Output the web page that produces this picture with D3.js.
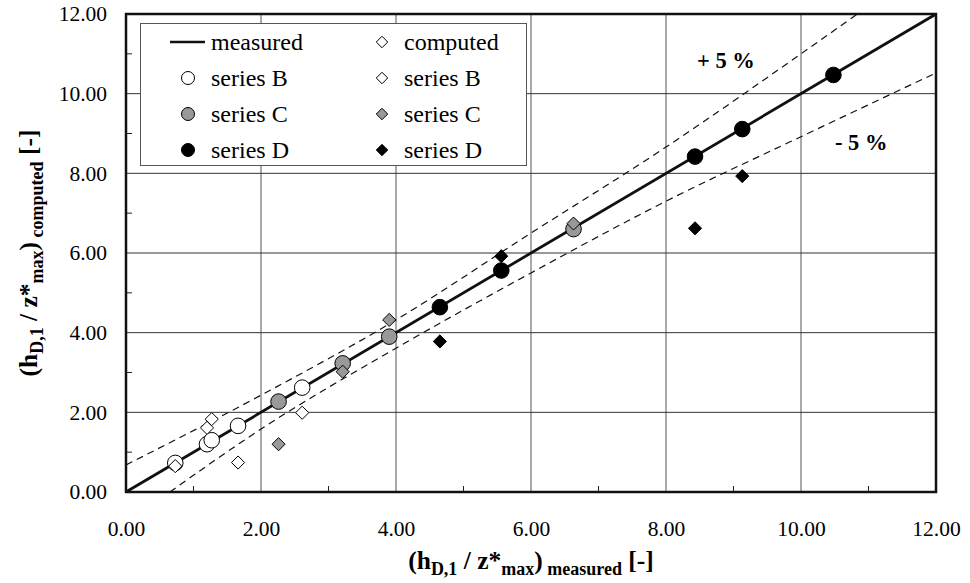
<!DOCTYPE html>
<html><head><meta charset="utf-8">
<script src="https://cdn.jsdelivr.net/npm/d3@7"></script>
<style>html,body{margin:0;padding:0;background:#fff;}svg{display:block;font-family:"Liberation Serif","Times New Roman",serif;}</style>
</head><body><svg id="c" width="970" height="583"></svg>
<script>
// ---- data ----
const xTicks = [0, 2, 4, 6, 8, 10, 12];
const yTicks = [0, 2, 4, 6, 8, 10, 12];
const minorTicks = [1, 3, 5, 7, 9, 11];
const measuredLine = [[0, 0], [12, 12]];
// series B
const measB = [0.73, 1.20, 1.27, 1.66, 2.61];
const measBy = [0.73, 1.20, 1.30, 1.66, 2.62];
const compB = [0.65, 1.61, 1.83, 0.74, 1.99];
// series C
const measC = [2.26, 3.21, 3.90, 6.63];
const measCy = [2.27, 3.23, 3.90, 6.60];
const compC = [1.20, 3.02, 4.32, 6.74];
// series D
const measD = [4.65, 5.56, 8.43, 9.13, 10.48];
const measDy = [4.64, 5.56, 8.42, 9.11, 10.47];
const compD = [3.78, 5.92, 6.62, 7.93, 10.44];
// +/- 5 % band lines
const upperBand = [[0, 0.68], [2, 2.43], [4, 4.32], [6, 6.50], [8, 8.66], [10, 11.0], [11, 12.2]];
const lowerBand = [[0.65, 0], [2, 1.58], [4, 3.61], [6, 5.50], [8, 7.30], [10, 8.92], [12, 10.52]];
const legendItems = [
  {label: "measured", type: "line"},
  {label: "computed", type: "diamond", fill: "#fff"},
  {label: "series B", type: "circle", fill: "#fff"},
  {label: "series B", type: "diamond", fill: "#fff"},
  {label: "series C", type: "circle", fill: "#999"},
  {label: "series C", type: "diamond", fill: "#999"},
  {label: "series D", type: "circle", fill: "#000"},
  {label: "series D", type: "diamond", fill: "#000"}
];

// ---- layout ----
const svg = d3.select("#c");
const L = 126, R = 936, T = 14, B = 492;
const x = d3.scaleLinear().domain([0, 12]).range([L, R]);
const y = d3.scaleLinear().domain([0, 12]).range([B, T]);

svg.append("defs").append("clipPath").attr("id", "clip")
  .append("rect").attr("x", L).attr("y", T).attr("width", R - L).attr("height", B - T);

// gridlines
const g = svg.append("g");
g.selectAll(".vg").data(xTicks.slice(1, -1)).join("line")
  .attr("x1", d => x(d)).attr("x2", d => x(d)).attr("y1", T).attr("y2", B)
  .attr("stroke", "#555").attr("stroke-width", 1);
g.selectAll(".hg").data(yTicks.slice(1, -1)).join("line")
  .attr("y1", d => y(d)).attr("y2", d => y(d)).attr("x1", L).attr("x2", R)
  .attr("stroke", "#333").attr("stroke-width", 1);

// minor ticks (inside)
g.selectAll(".mx").data(minorTicks).join("line")
  .attr("x1", d => x(d)).attr("x2", d => x(d)).attr("y1", B).attr("y2", B - 6)
  .attr("stroke", "#222").attr("stroke-width", 1);
g.selectAll(".my").data(minorTicks).join("line")
  .attr("y1", d => y(d)).attr("y2", d => y(d)).attr("x1", L).attr("x2", L + 6)
  .attr("stroke", "#222").attr("stroke-width", 1);

// axes labels via d3 axes
const fmt = d3.format(".2f");
const xAxis = svg.append("g").attr("transform", `translate(0,${B})`)
  .call(d3.axisBottom(x).tickValues(xTicks).tickFormat(fmt).tickSize(0).tickPadding(29));
const yAxis = svg.append("g").attr("transform", `translate(${L},0)`)
  .call(d3.axisLeft(y).tickValues(yTicks).tickFormat(fmt).tickSize(0).tickPadding(19));
[xAxis, yAxis].forEach(a => {
  a.select(".domain").remove();
  a.selectAll("text").attr("font-family", "Liberation Serif, Times New Roman, serif")
    .attr("font-size", 21.5).attr("fill", "#000");
});

// legend
const lg = svg.append("g");
lg.append("rect").attr("x", 140.5).attr("y", 23.5).attr("width", 386).attr("height", 142)
  .attr("fill", "#fff").attr("stroke", "#555").attr("stroke-width", 1);
legendItems.forEach((it, i) => {
  const col = i % 2, row = Math.floor(i / 2);
  const sx = col === 0 ? 188 : 382;
  const cy = 42 + row * 36;
  if (it.type === "line") {
    lg.append("line").attr("x1", 170).attr("x2", 205).attr("y1", cy).attr("y2", cy)
      .attr("stroke", "#111").attr("stroke-width", 2.5);
  } else if (it.type === "circle") {
    lg.append("circle").attr("cx", sx).attr("cy", cy).attr("r", 6.5)
      .attr("fill", it.fill).attr("stroke", "#000").attr("stroke-width", 1);
  } else {
    lg.append("path").attr("d", d3.symbol(d3.symbolDiamond2, 84)())
      .attr("transform", `translate(${sx},${cy})`)
      .attr("fill", it.fill).attr("stroke", "#000").attr("stroke-width", 1);
  }
  lg.append("text").attr("x", col === 0 ? 211 : 404).attr("y", cy + 8)
    .attr("font-size", 24).attr("fill", "#000").text(it.label);
});

// bands
const plot = svg.append("g").attr("clip-path", "url(#clip)");
const bandLine = d3.line().x(d => x(d[0])).y(d => y(d[1])).curve(d3.curveMonotoneX);
[upperBand, lowerBand].forEach(b => {
  plot.append("path").attr("d", bandLine(b)).attr("fill", "none")
    .attr("stroke", "#111").attr("stroke-width", 1.2).attr("stroke-dasharray", "7,5");
});
// measured line
plot.append("path").attr("d", d3.line().x(d => x(d[0])).y(d => y(d[1]))(measuredLine))
  .attr("fill", "none").attr("stroke", "#111").attr("stroke-width", 2.8);

// circles
const circleSets = [[measB, measBy, "#fff"], [measC, measCy, "#999"], [measD, measDy, "#000"]];
circleSets.forEach(([xs, ys, f]) => {
  plot.append("g").selectAll("circle").data(xs).join("circle")
    .attr("cx", d => x(d)).attr("cy", (d, i) => y(ys[i])).attr("r", 7.8)
    .attr("fill", f).attr("stroke", "#000").attr("stroke-width", 1);
});
// diamonds
const diamondSets = [[measB, compB, "#fff"], [measC, compC, "#999"], [measD, compD, "#000"]];
const dsym = d3.symbol(d3.symbolDiamond2, 110)();
diamondSets.forEach(([xs, ys, f]) => {
  plot.append("g").selectAll("path").data(xs).join("path")
    .attr("d", dsym).attr("transform", (d, i) => `translate(${x(d)},${y(ys[i])})`)
    .attr("fill", f).attr("stroke", "#000").attr("stroke-width", 1);
});

// frame
svg.append("rect").attr("x", L).attr("y", T).attr("width", R - L).attr("height", B - T)
  .attr("fill", "none").attr("stroke", "#111").attr("stroke-width", 2.5);

// band labels
svg.append("text").attr("x", 697).attr("y", 68).attr("font-size", 22.5).attr("font-weight", "bold").text("+ 5 %");
svg.append("text").attr("x", 835).attr("y", 150).attr("font-size", 22.5).attr("font-weight", "bold").text("- 5 %");

// axis titles
function title(sel, sub) {
  sel.attr("font-weight", "bold").attr("font-size", 25.5).attr("fill", "#000");
  sel.append("tspan").text("(h");
  sel.append("tspan").attr("font-size", 18).attr("dy", 6).text("D,1");
  sel.append("tspan").attr("dy", -6).text(" / z*");
  sel.append("tspan").attr("font-size", 18).attr("dy", 6).text("max");
  sel.append("tspan").attr("dy", -6).text(")");
  sel.append("tspan").attr("font-size", 18).attr("dy", 6).text(" " + sub);
  sel.append("tspan").attr("dy", -6).text(" [-]");
}
title(svg.append("text").attr("x", (L + R) / 2).attr("y", 569).attr("text-anchor", "middle"), "measured");
title(svg.append("text").attr("transform", `translate(37,${(T + B) / 2}) rotate(-90)`).attr("text-anchor", "middle"), "computed");
</script></body></html>
